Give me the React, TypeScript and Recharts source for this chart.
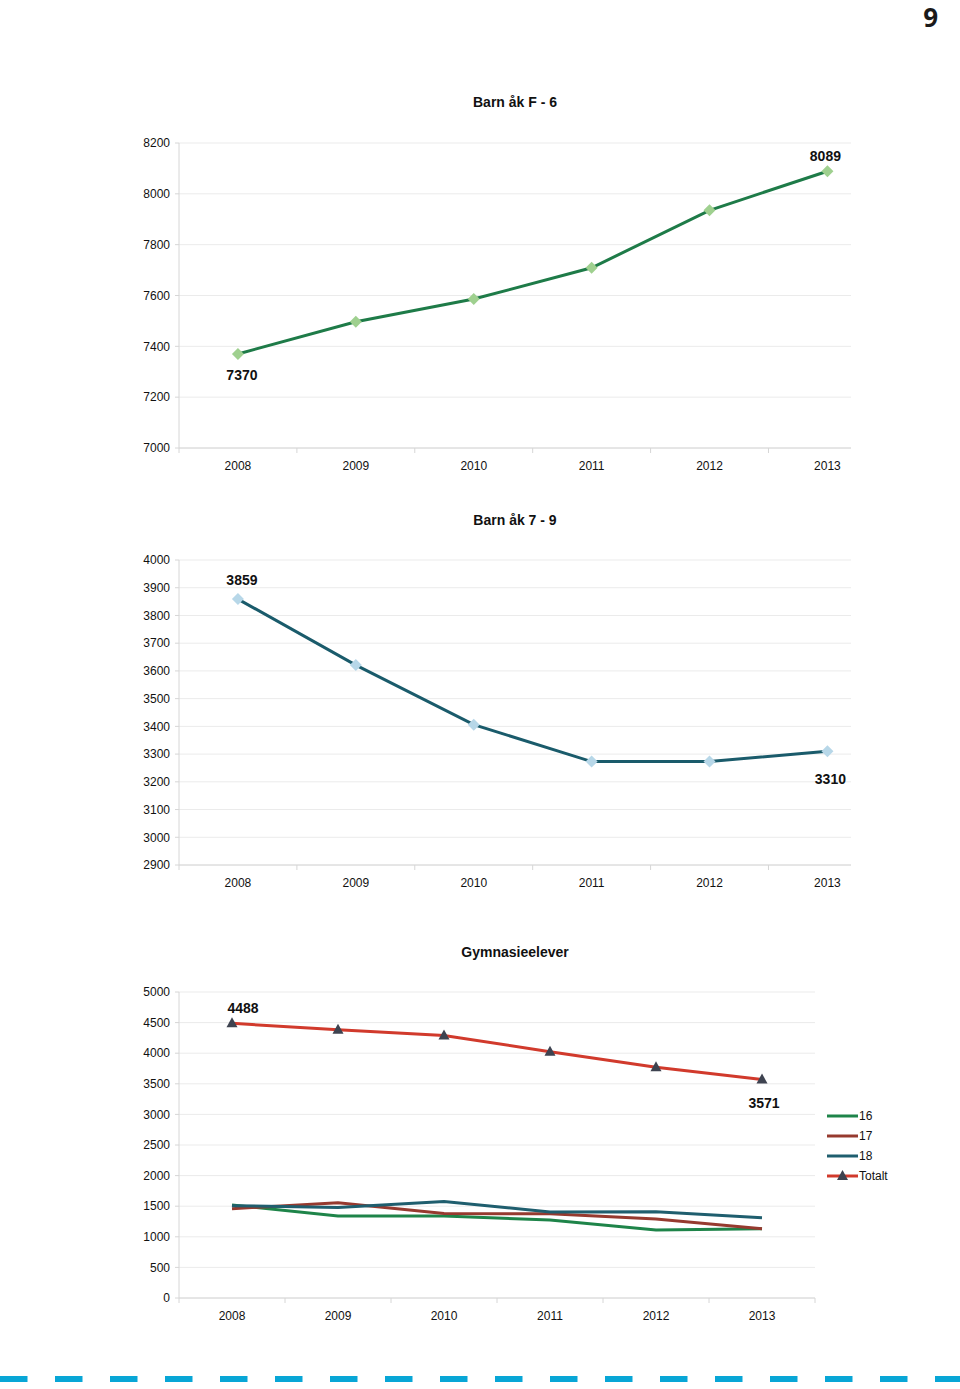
import { LineChart, Line, XAxis, YAxis, CartesianGrid, LabelList } from "recharts";

const years = ["2008", "2009", "2010", "2011", "2012", "2013"];

const barnF6 = [7370, 7497, 7586, 7709, 7935, 8089];
const barn79 = [3859, 3621, 3406, 3273, 3273, 3310];

const gy16 = [1520, 1340, 1338, 1275, 1111, 1130];
const gy17 = [1460, 1555, 1380, 1375, 1290, 1130];
const gy18 = [1508, 1480, 1578, 1405, 1408, 1311];
const gyTotalt = [4488, 4385, 4290, 4025, 3770, 3571];

const ticksF6 = [7000, 7200, 7400, 7600, 7800, 8000, 8200];
const ticks79 = [2900, 3000, 3100, 3200, 3300, 3400, 3500, 3600, 3700, 3800, 3900, 4000];
const ticksGy = [0, 500, 1000, 1500, 2000, 2500, 3000, 3500, 4000, 4500, 5000];

const gySeries = [
  { key: "g16", name: "16", color: "#1e8449" },
  { key: "g17", name: "17", color: "#963a2f" },
  { key: "g18", name: "18", color: "#1f5e6e" },
  { key: "totalt", name: "Totalt", color: "#d13a2c" },
];

const FONT = '"Liberation Sans", Arial, Helvetica, sans-serif';
const GRID = "#ebebeb";
const AXIS = "#d6d6d6";

const rowsF6 = years.map((year, i) => ({ i, year, value: barnF6[i] }));
const rows79 = years.map((year, i) => ({ i, year, value: barn79[i] }));
const rowsGy = years.map((year, i) => ({
  i,
  year,
  g16: gy16[i],
  g17: gy17[i],
  g18: gy18[i],
  totalt: gyTotalt[i],
}));

// labels on the category centres, small separator ticks between them
const XTick = (props: any) => {
  const { x, y, payload } = props;
  const v = payload.value;
  if (!Number.isInteger(v)) {
    return <line x1={x} y1={y} x2={x} y2={y + 5} stroke={AXIS} />;
  }
  return (
    <text x={x} y={y + 22} textAnchor="middle" fontSize={12} fill="#111" fontFamily={FONT}>
      {years[v]}
    </text>
  );
};

const Diamond = (fill: string) => (props: any) => {
  const { cx, cy, index } = props;
  if (cx == null || cy == null) return <g key={index} />;
  return (
    <polygon
      key={index}
      points={`${cx},${cy - 6} ${cx + 6},${cy} ${cx},${cy + 6} ${cx - 6},${cy}`}
      fill={fill}
    />
  );
};

const Triangle = (props: any) => {
  const { cx, cy, index } = props;
  if (cx == null || cy == null) return <g key={index} />;
  return (
    <polygon
      key={index}
      points={`${cx},${cy - 6} ${cx + 5.5},${cy + 4} ${cx - 5.5},${cy + 4}`}
      fill="#3e4350"
    />
  );
};

// only first and last values are written out
const endLabels = (first: [number, number], last: [number, number], n: number) => (props: any) => {
  const { x, y, value, index } = props;
  if (index !== 0 && index !== n - 1) return null;
  const [dx, dy] = index === 0 ? first : last;
  return (
    <text
      x={x + dx}
      y={y + dy}
      textAnchor="middle"
      dominantBaseline="central"
      fontSize={14}
      fontWeight="bold"
      fill="#111"
      fontFamily={FONT}
    >
      {value}
    </text>
  );
};

const Title = ({ top, text }: { top: number; text: string }) => (
  <div
    style={{
      position: "absolute",
      left: 179,
      width: 672,
      top,
      lineHeight: "16px",
      textAlign: "center",
      fontFamily: FONT,
      fontWeight: "bold",
      fontSize: 14,
      color: "#111",
    }}
  >
    {text}
  </div>
);

const yAxisProps = {
  width: 179,
  tickSize: 4,
  tickMargin: 5,
  tickLine: { stroke: AXIS },
  axisLine: { stroke: AXIS },
  tick: { fontSize: 12, fill: "#111", fontFamily: FONT },
  interval: 0 as const,
  allowDataOverflow: true,
};

const xAxisProps = {
  dataKey: "i",
  type: "number" as const,
  interval: 0 as const,
  allowDataOverflow: true,
  tickSize: 0,
  tickMargin: 0,
  tickLine: false,
  axisLine: { stroke: AXIS },
  tick: <XTick />,
  height: 30,
};

const GyLegend = () => (
  <div style={{ position: "absolute", left: 827, top: 1106, fontFamily: FONT, fontSize: 12, color: "#111" }}>
    {gySeries.map((s) => (
      <div key={s.key} style={{ display: "flex", alignItems: "center", height: 20 }}>
        <svg width={32} height={12}>
          <line x1={0} y1={6} x2={31} y2={6} stroke={s.color} strokeWidth={3} />
          {s.key === "totalt" && <polygon points="15.5,0 21,10 10,10" fill="#3e4350" />}
        </svg>
        <span>{s.name}</span>
      </div>
    ))}
  </div>
);

export default function App() {
  return (
    <div style={{ position: "absolute", left: 0, top: 0, width: 960, height: 1389, background: "#fff" }}>
      <div
        style={{
          position: "absolute",
          right: 22,
          top: 2,
          lineHeight: "30px",
          fontFamily: '"Open Sans", "DejaVu Sans", sans-serif',
          fontWeight: "bold",
          fontSize: 26,
          color: "#1a1a1a",
        }}
      >
        9
      </div>

      <Title top={94} text="Barn åk F - 6" />
      <div style={{ position: "absolute", left: 0, top: 130 }}>
        <LineChart width={960} height={360} data={rowsF6} margin={{ top: 13, right: 109, bottom: 12, left: 0 }}>
          <CartesianGrid vertical={false} stroke={GRID} />
          <XAxis {...xAxisProps} domain={[-0.5, 5.2]} ticks={[-0.5, 0, 0.5, 1, 1.5, 2, 2.5, 3, 3.5, 4, 4.5, 5]} />
          <YAxis {...yAxisProps} domain={[7000, 8200]} ticks={ticksF6} />
          <Line
            type="linear"
            dataKey="value"
            stroke="#1e7b48"
            strokeWidth={3}
            dot={Diamond("#9fd08f")}
            activeDot={false}
            isAnimationActive={false}
          >
            <LabelList dataKey="value" content={endLabels([4, 21], [-2, -15], years.length)} />
          </Line>
        </LineChart>
      </div>

      <Title top={512} text="Barn åk 7 - 9" />
      <div style={{ position: "absolute", left: 0, top: 547 }}>
        <LineChart width={960} height={360} data={rows79} margin={{ top: 13, right: 109, bottom: 12, left: 0 }}>
          <CartesianGrid vertical={false} stroke={GRID} />
          <XAxis {...xAxisProps} domain={[-0.5, 5.2]} ticks={[-0.5, 0, 0.5, 1, 1.5, 2, 2.5, 3, 3.5, 4, 4.5, 5]} />
          <YAxis {...yAxisProps} domain={[2900, 4000]} ticks={ticks79} />
          <Line
            type="linear"
            dataKey="value"
            stroke="#1a5b6b"
            strokeWidth={3}
            dot={Diamond("#b7d7e8")}
            activeDot={false}
            isAnimationActive={false}
          >
            <LabelList dataKey="value" content={endLabels([4, -19], [3, 28], years.length)} />
          </Line>
        </LineChart>
      </div>

      <Title top={944} text="Gymnasieelever" />
      <div style={{ position: "absolute", left: 0, top: 979 }}>
        <LineChart width={960} height={361} data={rowsGy} margin={{ top: 13, right: 145, bottom: 12, left: 0 }}>
          <CartesianGrid vertical={false} stroke={GRID} />
          <XAxis
            {...xAxisProps}
            domain={[-0.5, 5.5]}
            ticks={[-0.5, 0, 0.5, 1, 1.5, 2, 2.5, 3, 3.5, 4, 4.5, 5, 5.5]}
          />
          <YAxis {...yAxisProps} domain={[0, 5000]} ticks={ticksGy} />
          {gySeries.slice(0, 3).map((s) => (
            <Line
              key={s.key}
              name={s.name}
              dataKey={s.key}
              stroke={s.color}
              strokeWidth={3}
              dot={false}
              activeDot={false}
              isAnimationActive={false}
            />
          ))}
          <Line
            name="Totalt"
            dataKey="totalt"
            stroke="#d13a2c"
            strokeWidth={3}
            dot={Triangle}
            activeDot={false}
            isAnimationActive={false}
          >
            <LabelList dataKey="totalt" content={endLabels([11, -15], [2, 24], years.length)} />
          </Line>
        </LineChart>
      </div>
      <GyLegend />

      <svg style={{ position: "absolute", left: 0, top: 1372 }} width={960} height={14}>
        <line x1={0} y1={7} x2={960} y2={7} stroke="#08a6d6" strokeWidth={6} strokeDasharray="27.5 27.5" />
      </svg>
    </div>
  );
}
